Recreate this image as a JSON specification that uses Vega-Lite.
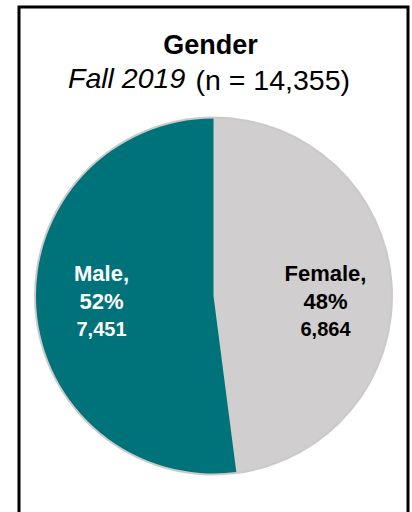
{
  "$schema": "https://vega.github.io/schema/vega-lite/v6.json",
  "padding": {"left": 17, "top": 5, "right": 0, "bottom": 0},
  "background": "white",
  "config": {
    "font": "Liberation Sans",
    "view": {"stroke": "black", "strokeWidth": 3}
  },
  "title": {
    "text": "Gender",
    "font": "Liberation Sans",
    "fontSize": 27,
    "fontWeight": "bold",
    "color": "black",
    "anchor": "middle",
    "frame": "group",
    "dx": -3,
    "offset": -54
  },
  "vconcat": [
    {
      "title": {
        "text": "Fall 2019",
        "font": "Liberation Sans",
        "fontSize": 28.5,
        "fontStyle": "italic",
        "fontWeight": "normal",
        "color": "black",
        "anchor": "start",
        "frame": "group",
        "dx": 49,
        "offset": -88
      },
      "vconcat": [
        {
          "title": {
            "text": "(n = 14,355)",
            "font": "Liberation Sans",
            "fontSize": 28.5,
            "fontWeight": "normal",
            "color": "black",
            "anchor": "end",
            "frame": "group",
            "dx": -58,
            "offset": -88
          },
          "width": 389,
          "height": 578,
          "view": {"stroke": "black", "strokeWidth": 3, "fill": "white"},
          "data": {
            "values": [
              {"gender": "Female", "count": 6864, "label": "Female,\n48%"},
              {"gender": "Male", "count": 7451, "label": "Male,\n52%"}
            ]
          },
          "encoding": {
            "theta": {"field": "count", "type": "quantitative", "stack": true},
            "order": {"field": "gender", "sort": "ascending"}
          },
          "layer": [
            {
              "mark": {"type": "arc", "radius": 179.5, "color": "#8a8a8a", "opacity": 0.45}
            },
            {
              "mark": {"type": "arc", "radius": 177.5},
              "encoding": {
                "color": {
                  "field": "gender",
                  "type": "nominal",
                  "scale": {"domain": ["Female", "Male"], "range": ["#D0CECE", "#00727A"]},
                  "legend": null
                }
              }
            },
            {
              "mark": {
                "type": "text",
                "radius": 112,
                "thetaOffset": 0.063,
                "font": "Liberation Sans",
                "fontWeight": "bold",
                "fontSize": 22,
                "lineBreak": "\n",
                "lineHeight": 28,
                "baseline": "middle",
                "align": "center",
                "dy": -22
              },
              "encoding": {
                "text": {"field": "label", "type": "nominal"},
                "color": {
                  "condition": {"test": "datum.gender === 'Male'", "value": "white"},
                  "value": "black"
                }
              }
            },
            {
              "mark": {
                "type": "text",
                "radius": 112,
                "thetaOffset": 0.063,
                "font": "Liberation Sans",
                "fontWeight": "bold",
                "fontSize": 20,
                "baseline": "middle",
                "align": "center",
                "dy": 34
              },
              "encoding": {
                "text": {"field": "count", "type": "quantitative", "format": ",d"},
                "color": {
                  "condition": {"test": "datum.gender === 'Male'", "value": "white"},
                  "value": "black"
                }
              }
            }
          ]
        }
      ]
    }
  ]
}
